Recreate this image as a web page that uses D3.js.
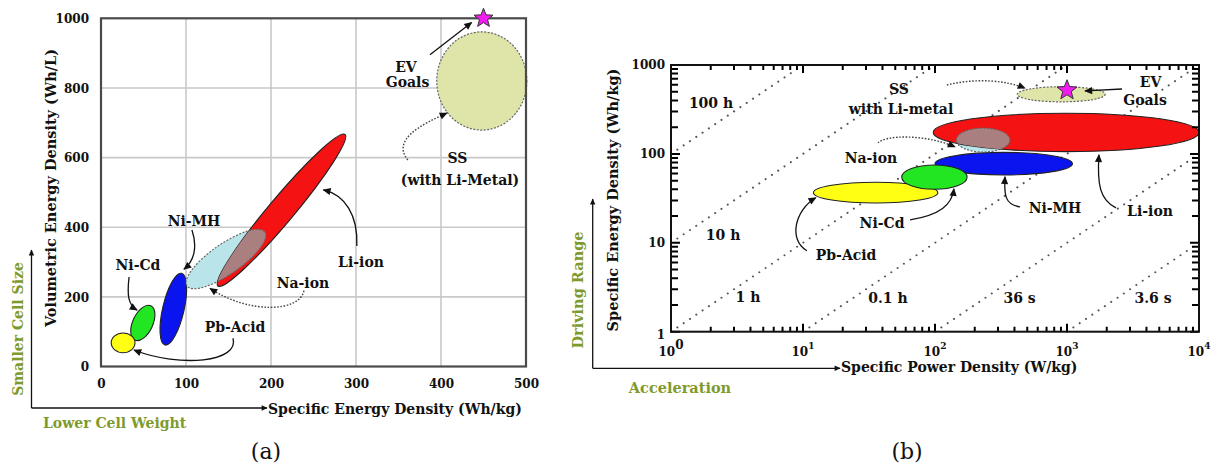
<!DOCTYPE html>
<html><head><meta charset="utf-8">
<script src="https://cdn.jsdelivr.net/npm/d3@7"></script>
<style>
body{margin:0;background:#fff}
text{font-family:"DejaVu Serif",serif;font-weight:bold;fill:#111}
text.cap{font-weight:normal}
</style>
</head><body><svg id="c" width="1218" height="469"></svg>
<script>
// ---------- Panel (a): volumetric vs specific energy ----------
const batteriesA = ["Pb-Acid","Ni-Cd","Ni-MH","Na-ion","Li-ion","SS (with Li-Metal)"];
// major-axis end points of each region (Wh/kg, Wh/L) and minor/major ratio
const aEnd1 = [[12,68],[39.8,75.8],[75.3,61.7],[101.2,231.2],[137.6,231.2],[395,820]];
const aEnd2 = [[40,68],[58.6,174.3],[94.9,267.7],[192.9,386.3],[287.1,666.3],[501,820]];
const aWidthRatio = [0.83,0.53,0.29,0.32,0.127,1.09];
const evGoalA = [450, 1000];
const xTicksA = [0,100,200,300,400,500];
const yTicksA = [0,200,400,600,800,1000];

// ---------- Panel (b): Ragone plot ----------
const batteriesB = ["Pb-Acid","Ni-Cd","Ni-MH","Na-ion","Li-ion","SS with Li-metal"];
const powerRange  = [[12,105],[56,175],[100,1100],[145,370],[97,10000],[420,1950]];   // W/kg
const energyRange = [[28,48],[40,75],[58,104],[105,195],[106,287],[385,570]];        // Wh/kg
const evGoalB = [1000, 520];
const dischargeHours  = [100,10,1,0.1,0.01,0.001];
const dischargeLabels = ["100 h","10 h","1 h","0.1 h","36 s","3.6 s"];
const dischargeLabelAt = [[2.01,374],[2.48,12.3],[3.83,2.47],[44,2.41],[437,2.41],[4485,2.41]];
const xTicksB = [1,10,100,1000,10000];
const xTickExp = ["0","1","2","3","4"];
const yTicksB = [1,10,100,1000];

// ---------- annotations ----------
const labelsA = [["EV",[358.8,861]],["Goals",[360.6,818]],["SS",[419.4,599]],["(with Li-Metal)",[422.4,535.6]],
  ["Ni-MH",[109.4,418]],["Ni-Cd",[43.5,291.5]],["Pb-Acid",[157.6,113.4]],["Na-ion",[237.6,239.8]],["Li-ion",[305.9,300]]];
const arrowsA = [
  [[[387,895],[436,988]],false],
  [[[361,593],[342,650],[375,693],[407,728]],true],
  [[[107,392],[113,349],[111,306],[97.6,279]],false],
  [[[33,257],[30.6,205],[31.8,177],[42.4,162]],false],
  [[[155.3,81],[163.5,12.9],[93,-4.3],[38.8,47.4]],false],
  [[[238.8,217.6],[234,157],[175,148.6],[128.2,224.5]],true],
  [[[301,346],[302.4,435],[287,493],[261.6,507]],false]];
const labelsB = [["SS",[53.4,537]],["with Li-metal",[55.3,321]],["EV",[4300,640]],["Goals",[3900,400]],
  ["Na-ion",[32.7,90.2]],["Ni-Cd",[39.7,16.8]],["Pb-Acid",[21.2,7.33]],["Ni-MH",[811,24.7]],["Li-ion",[4254,22.9]]];
const arrowsB = [
  [[[123,596],[201,714],[339,678],[481,547]],true],
  [[[2612,537],[1368,511]],false],
  [[[37,133],[41.8,163],[84,168],[142,120]],true],
  [[[64.7,18.1],[109,20.6],[135,26.8],[139,40.5]],false],
  [[[10.7,8.13],[7.7,10.8],[8.7,23.5],[12.5,32.1]],false],
  [[[440,25.4],[339,26.7],[333,34.6],[339,55.2]],false],
  [[[2350,24.7],[1778,30.4],[1687,44.9],[1746,97.5]],false]];

const fillsA = ["#ffff14","#22e622","#0a14ee","#b9e4ea","#f41212","#dfe4a8"];
const fillsB = ["#ffff14","#22e622","#0a14ee","#b9e4ea","#f41212","#dfe4a8"];
const dottedEdge = [false,false,false,true,false,true];
const olive = "#7f9a2c";

const svg = d3.select("#c");
svg.append("rect").attr("width",1218).attr("height",469).attr("fill","#fff");
const defs = svg.append("defs");
function marker(id, w, h){
  defs.append("marker").attr("id",id).attr("viewBox","0 0 10 10").attr("refX",9).attr("refY",5)
    .attr("markerWidth",w).attr("markerHeight",h).attr("markerUnits","userSpaceOnUse").attr("orient","auto")
    .append("path").attr("d","M0,0.5 L10,5 L0,9.5 Z").attr("fill","#111");
}
marker("arr",9,8); marker("arrS",8,6);

function starPath(cx, cy, R, r){
  const pts=[]; for(let i=0;i<10;i++){const a=-Math.PI/2+i*Math.PI/5, rr=i%2?r:R; pts.push([cx+rr*Math.cos(a),cy+rr*Math.sin(a)]);}
  return d3.line()(pts)+"Z";
}
function curve(pts){
  return pts.length===2 ? `M${pts[0]}L${pts[1]}` : `M${pts[0]}C${pts[1]} ${pts[2]} ${pts[3]}`;
}

// ================= PANEL A =================
const xA = d3.scaleLinear([0,500],[101,526]);
const yA = d3.scaleLinear([0,1000],[366.5,18.3]);
const gA = svg.append("g");
// grid
gA.selectAll(".gx").data(xTicksA.slice(1,-1)).join("line").attr("x1",d=>xA(d)).attr("x2",d=>xA(d))
  .attr("y1",yA(0)).attr("y2",yA(1000)).attr("stroke","#c9c9c9").attr("stroke-width",1.6);
gA.selectAll(".gy").data(yTicksA.slice(1,-1)).join("line").attr("y1",d=>yA(d)).attr("y2",d=>yA(d))
  .attr("x1",xA(0)).attr("x2",xA(500)).attr("stroke","#c9c9c9").attr("stroke-width",1.6);

function ellA(i){
  const x1=xA(aEnd1[i][0]), y1=yA(aEnd1[i][1]), x2=xA(aEnd2[i][0]), y2=yA(aEnd2[i][1]);
  const cx=(x1+x2)/2, cy=(y1+y2)/2, a=Math.hypot(x2-x1,y2-y1)/2, ang=Math.atan2(y2-y1,x2-x1)*180/Math.PI;
  return {cx,cy,rx:a,ry:a*aWidthRatio[i],rot:`rotate(${ang},${cx},${cy})`};
}
function drawEll(g,e,fill,dotted){
  return g.append("ellipse").attr("cx",e.cx).attr("cy",e.cy).attr("rx",e.rx).attr("ry",e.ry).attr("transform",e.rot)
    .attr("fill",fill).attr("stroke",dotted?"#666":"#222").attr("stroke-width",dotted?1.2:1.1)
    .attr("stroke-dasharray",dotted?"2 1.5":null);
}
// draw order: green, yellow, blue, Na, Li, SS
[1,0,2,3,4,5].forEach(i=>drawEll(gA,ellA(i),fillsA[i],dottedEdge[i]));
// overlap of Na-ion with Li-ion
const eLiA = ellA(4);
defs.append("clipPath").attr("id","clipLiA").append("ellipse").attr("cx",eLiA.cx).attr("cy",eLiA.cy)
  .attr("rx",eLiA.rx).attr("ry",eLiA.ry).attr("transform",eLiA.rot);
drawEll(gA.append("g").attr("clip-path","url(#clipLiA)"),ellA(3),"#a97f7f",true);
// border
gA.append("rect").attr("x",xA(0)).attr("y",yA(1000)).attr("width",xA(500)-xA(0)).attr("height",yA(0)-yA(1000))
  .attr("fill","none").attr("stroke","#4a4a4a").attr("stroke-width",2.2);
// star
gA.append("path").attr("d",starPath(xA(evGoalA[0]),yA(evGoalA[1]),10,4.3)).attr("fill","#f21cf2").attr("stroke","#333").attr("stroke-width",1);
// axes labels via d3 axes
const axA = gA.append("g").attr("transform",`translate(0,${yA(0)+10})`).call(d3.axisBottom(xA).tickValues(xTicksA).tickSize(0).tickFormat(d3.format("d")));
axA.select(".domain").remove();
axA.selectAll("text").attr("font-size",12).attr("font-family","DejaVu Serif").attr("font-weight","bold").attr("fill","#111");
const ayA = gA.append("g").attr("transform",`translate(${xA(0)-9},0)`).call(d3.axisLeft(yA).tickValues(yTicksA).tickSize(0).tickFormat(d3.format("d")));
ayA.select(".domain").remove();
ayA.selectAll("text").attr("font-size",12).attr("font-family","DejaVu Serif").attr("font-weight","bold").attr("fill","#111").attr("dy","0.35em");
// annotations
arrowsA.forEach(([pts,dot])=>{
  gA.append("path").attr("d",curve(pts.map(p=>[xA(p[0]),yA(p[1])]))).attr("fill","none")
    .attr("stroke",dot?"#444":"#111").attr("stroke-width",dot?1.4:1.3).attr("stroke-dasharray",dot?"1.6 1.6":null)
    .attr("marker-end","url(#arr)");
});
labelsA.forEach(([t,p])=>gA.append("text").attr("x",xA(p[0])).attr("y",yA(p[1])).attr("text-anchor","middle")
  .attr("dominant-baseline","central").attr("font-size",14).text(t));
// axis titles
gA.append("text").attr("transform",`translate(50,188) rotate(-90)`).attr("text-anchor","middle")
  .attr("dominant-baseline","central").attr("font-size",14.5).text("Volumetric Energy Density (Wh/L)");
gA.append("path").attr("d","M31.5,408 L31.5,250").attr("stroke","#111").attr("stroke-width",1.3).attr("marker-end","url(#arrS)");
gA.append("path").attr("d","M31.5,408 L267,408").attr("stroke","#111").attr("stroke-width",1.3).attr("marker-end","url(#arrS)");
gA.append("text").attr("x",268).attr("y",409).attr("dominant-baseline","central").attr("font-size",14).text("Specific Energy Density (Wh/kg)");
gA.append("text").attr("x",43).attr("y",423).attr("dominant-baseline","central").attr("font-size",14).style("fill",olive).text("Lower Cell Weight");
gA.append("text").attr("transform","translate(18,329) rotate(-90)").attr("text-anchor","middle").attr("dominant-baseline","central")
  .attr("font-size",14).style("fill",olive).text("Smaller Cell Size");
gA.append("text").attr("class","cap").attr("x",266).attr("y",451).attr("text-anchor","middle").attr("dominant-baseline","central")
  .attr("font-size",22).text("(a)");

// ================= PANEL B =================
const xB = d3.scaleLog([1,1e4],[671,1199]);
const yB = d3.scaleLog([1,1000],[331.7,65]);
const gB = svg.append("g");
// discharge-time lines
dischargeHours.forEach((h,i)=>{
  const p0=Math.max(1,1/h), p1=Math.min(1e4,1000/h);
  gB.append("line").attr("x1",xB(p0)).attr("y1",yB(h*p0)).attr("x2",xB(p1)).attr("y2",yB(h*p1))
    .attr("stroke","#555").attr("stroke-width",2).attr("stroke-linecap","round").attr("stroke-dasharray","0.1 7.5");
  gB.append("text").attr("x",xB(dischargeLabelAt[i][0])).attr("y",yB(dischargeLabelAt[i][1])).attr("text-anchor","middle")
    .attr("dominant-baseline","central").attr("font-size",14).text(dischargeLabels[i]);
});
function ellB(i){
  const x0=xB(powerRange[i][0]), x1=xB(powerRange[i][1]), y0=yB(energyRange[i][0]), y1=yB(energyRange[i][1]);
  return {cx:(x0+x1)/2, cy:(y0+y1)/2, rx:(x1-x0)/2, ry:(y0-y1)/2, rot:null};
}
[0,2,1,3,4,5].forEach(i=>drawEll(gB,ellB(i),fillsB[i],dottedEdge[i]));
const eLiB = ellB(4);
defs.append("clipPath").attr("id","clipLiB").append("ellipse").attr("cx",eLiB.cx).attr("cy",eLiB.cy).attr("rx",eLiB.rx).attr("ry",eLiB.ry);
drawEll(gB.append("g").attr("clip-path","url(#clipLiB)"),ellB(3),"#a97f7f",true);
gB.append("path").attr("d",starPath(xB(evGoalB[0]),yB(evGoalB[1]),10.5,4.5)).attr("fill","#f21cf2").attr("stroke","#333").attr("stroke-width",1);

// ticks (inside, all four sides)
const minorX = d3.range(0,4).flatMap(e=>d3.range(2,10).map(k=>k*Math.pow(10,e)));
const minorY = d3.range(0,3).flatMap(e=>d3.range(2,10).map(k=>k*Math.pow(10,e)));
let tp = "";
const xb0 = xB(1), xb1 = xB(10000), yb0 = yB(1), yb1 = yB(1000);
xTicksB.forEach(v=>{const x=xB(v); tp += `M${x},${yb0}V${yb0-8}M${x},${yb1}V${yb1+8}`;});
minorX.forEach(v=>{const x=xB(v); tp += `M${x},${yb0}V${yb0-5}M${x},${yb1}V${yb1+5}`;});
yTicksB.forEach(v=>{const y=yB(v); tp += `M${xb0},${y}H${xb0+9}M${xb1},${y}H${xb1-9}`;});
minorY.forEach(v=>{const y=yB(v); tp += `M${xb0},${y}H${xb0+7}M${xb1},${y}H${xb1-7}`;});
gB.append("path").attr("d",tp).attr("fill","none").attr("stroke","#000").attr("stroke-width",2);
gB.append("rect").attr("x",xb0).attr("y",yb1).attr("width",xb1-xb0).attr("height",yb0-yb1)
  .attr("fill","none").attr("stroke","#111").attr("stroke-width",2);
// tick labels
yTicksB.forEach(v=>gB.append("text").attr("x",xB(1)-6).attr("y",yB(v)+(v===1?3:0)).attr("text-anchor","end")
  .attr("dominant-baseline","central").attr("font-size",12).text(v));
xTicksB.forEach((v,i)=>{
  const t = gB.append("text").attr("x",xB(v)).attr("y",yB(1)+24).attr("text-anchor","middle").attr("font-size",12);
  t.append("tspan").text("10");
  t.append("tspan").attr("dy",-7).attr("font-size",i===0?12:9).text(xTickExp[i]);
});
// annotations
arrowsB.forEach(([pts,dot])=>{
  gB.append("path").attr("d",curve(pts.map(p=>[xB(p[0]),yB(p[1])]))).attr("fill","none")
    .attr("stroke",dot?"#444":"#111").attr("stroke-width",dot?1.4:1.3).attr("stroke-dasharray",dot?"1.6 1.6":null)
    .attr("marker-end","url(#arr)");
});
labelsB.forEach(([t,p])=>gB.append("text").attr("x",xB(p[0])).attr("y",yB(p[1])).attr("text-anchor","middle")
  .attr("dominant-baseline","central").attr("font-size",14).text(t));
// titles
gB.append("text").attr("transform","translate(612,200) rotate(-90)").attr("text-anchor","middle")
  .attr("dominant-baseline","central").attr("font-size",14.5).text("Specific Energy Density (Wh/kg)");
gB.append("path").attr("d","M592.7,368.3 L592.7,199").attr("stroke","#111").attr("stroke-width",1.3).attr("marker-end","url(#arrS)");
gB.append("path").attr("d","M592.7,368.3 L840,368.3").attr("stroke","#111").attr("stroke-width",1.3).attr("marker-end","url(#arrS)");
gB.append("text").attr("x",841).attr("y",367).attr("dominant-baseline","central").attr("font-size",14).text("Specific Power Density (W/kg)");
gB.append("text").attr("x",680).attr("y",387).attr("text-anchor","middle").attr("dominant-baseline","central").attr("font-size",14.5)
  .style("fill",olive).text("Acceleration");
gB.append("text").attr("transform","translate(577,290) rotate(-90)").attr("text-anchor","middle").attr("dominant-baseline","central")
  .attr("font-size",14.5).style("fill",olive).text("Driving Range");
gB.append("text").attr("class","cap").attr("x",907).attr("y",451).attr("text-anchor","middle").attr("dominant-baseline","central")
  .attr("font-size",22).text("(b)");
</script></body></html>
